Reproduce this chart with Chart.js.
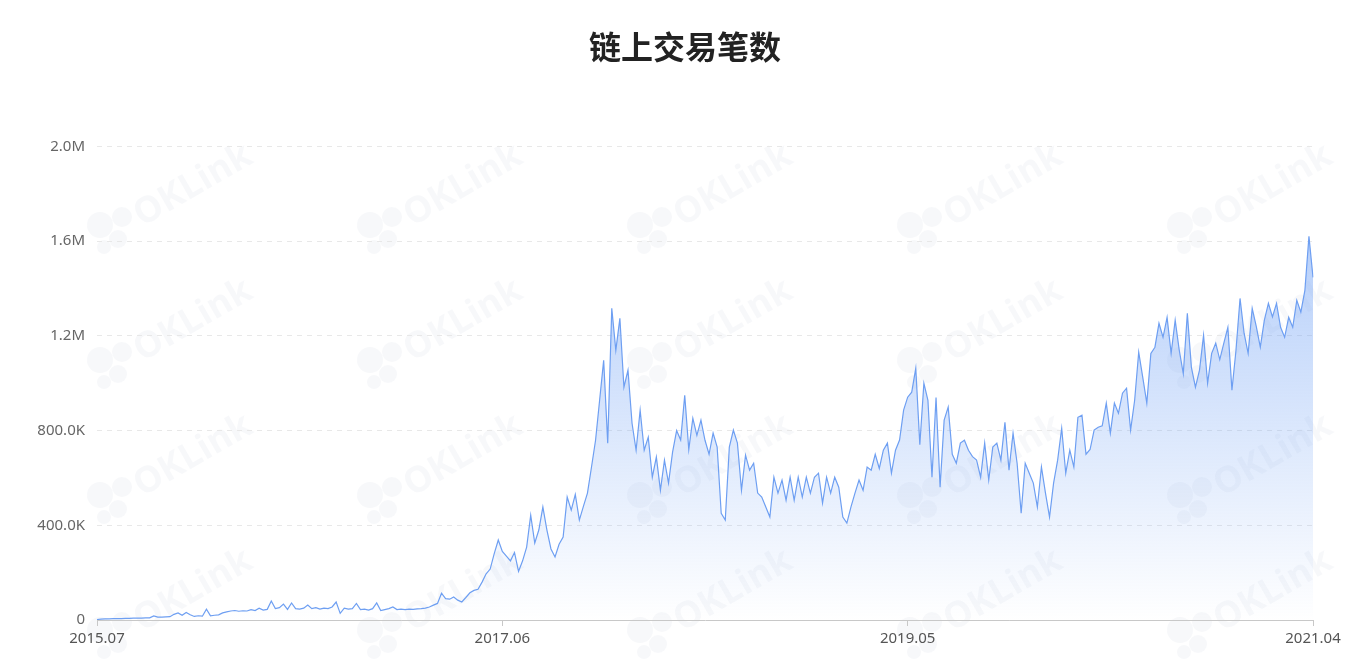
<!DOCTYPE html>
<html>
<head>
<meta charset="utf-8">
<title>链上交易笔数</title>
<script src="https://cdn.jsdelivr.net/npm/chart.js@4.4.1/dist/chart.umd.min.js"></script>
<style>
  html, body { margin: 0; padding: 0; background: #fff; }
  #wrap { width: 1370px; height: 670px; position: relative; }
</style>
</head>
<body>
<div id="wrap"><canvas id="txChart" width="1370" height="670"></canvas></div>
<script>
// weekly samples, 2015.07.30 -> 2021.04.29, values in thousands of transactions
const txCountK = [
  2, 4, 5, 5, 6, 6, 6, 7, 7, 8,
  8, 8, 9, 9, 17, 12, 12, 13, 14, 24,
  30, 20, 32, 22, 15, 18, 16, 46, 18, 20,
  22, 30, 34, 38, 40, 37, 39, 38, 44, 40,
  50, 42, 45, 80, 48, 52, 67, 45, 72, 48,
  46, 50, 63, 48, 52, 46, 50, 48, 55, 76,
  28, 50, 46, 48, 70, 44, 46, 42, 48, 72,
  40, 44, 48, 55, 44, 46, 44, 46, 45, 47,
  48, 50, 55, 63, 70, 113, 90, 88, 97, 84,
  76, 95, 115, 125, 130, 160, 195, 215, 280, 338,
  290,
  270, 250, 285, 205, 250, 308, 443, 325, 380, 477,
  380, 300, 266, 320, 350, 519, 464, 530, 422, 480,
  536, 646, 759, 928, 1097, 747, 1316, 1139, 1274, 983,
  1055, 831, 717, 886, 717, 772, 603, 688, 548, 675,
  578, 709, 800, 760, 949, 720, 852, 780, 844, 759,
  700, 789, 730, 451, 422, 730, 802, 747, 548, 696,
  633, 662, 536, 519, 477, 435, 603, 536, 591, 506,
  603, 506, 603, 519, 603, 536, 603, 620, 494, 603,
  536, 603, 561, 435, 409, 477, 536, 591, 548, 646,
  633, 700, 640, 717, 747, 620, 717, 760, 886, 941,
  962, 1063, 740, 1000, 928, 603, 940, 561, 844, 899,
  700, 662, 747, 759, 717, 690, 675, 603, 747, 591,
  730, 747, 675, 835, 633, 789, 662, 451, 662, 620,
  578, 477, 646, 536, 435, 578, 675, 810, 620, 717,
  646, 856, 865, 700, 720, 802, 814, 820, 916, 789,
  916, 873, 958, 979, 802, 928, 1131, 1025, 916, 1126,
  1152, 1253, 1194, 1278, 1126, 1266, 1140, 1040, 1295, 1067,
  983, 1055, 1202, 1000, 1126, 1169, 1100, 1169, 1236, 970,
  1139, 1358, 1211, 1126, 1316, 1240, 1152, 1266, 1337, 1280,
  1337, 1236, 1194, 1278, 1236, 1350, 1300, 1392, 1620, 1447
];

const xTickIndex = [0, 100, 200, 300];
const xTickLabels = ['2015.07', '2017.06', '2019.05', '2021.04'];
const yTicksK = [0, 400, 800, 1200, 1600, 2000];

// one category per week
const weeks = [];
const start = new Date(2015, 6, 30);
for (let i = 0; i < txCountK.length; i++) {
    const d = new Date(start.getTime() + i * 7 * 86400000);
    weeks.push(d.getFullYear() + '.' + String(d.getMonth() + 1).padStart(2, '0') + '.' + String(d.getDate()).padStart(2, '0'));
}

const fmtK = v => {
    if (v === 0) return '0';
    if (v >= 1000) return (v / 1000).toFixed(1) + 'M';
    return v.toFixed(1) + 'K';
};

// faint OKLink watermark behind the plot
const watermark = {
    id: 'watermark',
    beforeDraw(chart) {
        const ctx = chart.ctx;
        ctx.save();
        for (let c = 0; c < 5; c++) {
            for (let r = 0; r < 4; r++) {
                const x = 100 + c * 270;
                const y = 225 + r * 135;
                ctx.fillStyle = 'rgba(205,212,224,0.16)';
                [[0, 0, 13], [22, -8, 10], [18, 14, 9], [4, 22, 7]].forEach(([dx, dy, rad]) => {
                    ctx.beginPath();
                    ctx.arc(x + dx, y + dy, rad, 0, Math.PI * 2);
                    ctx.fill();
                });
                ctx.translate(x + 42, y + 2);
                ctx.rotate(-Math.PI / 6);
                ctx.font = 'bold 36px "Open Sans", sans-serif';
                ctx.fillText('OKLink', 0, 0);
                ctx.setTransform(1, 0, 0, 1, 0, 0);
            }
        }
        ctx.restore();
    }
};

const ctx = document.getElementById('txChart');
new Chart(ctx, {
    type: 'line',
    data: {
        labels: weeks,
        datasets: [{
            label: '链上交易笔数',
            data: txCountK,
            borderColor: '#6e9ff2',
            borderWidth: 1.2,
            pointRadius: 0,
            tension: 0,
            fill: 'origin',
            backgroundColor: (c) => {
                const area = c.chart.chartArea;
                if (!area) return 'rgba(110,160,245,0.2)';
                const g = c.chart.ctx.createLinearGradient(0, area.top, 0, area.bottom);
                g.addColorStop(0, 'rgba(110,160,245,0.62)');
                g.addColorStop(1, 'rgba(110,160,245,0.0)');
                return g;
            }
        }]
    },
    options: {
        responsive: false,
        animation: false,
        layout: { padding: 0 },
        plugins: {
            legend: { display: false },
            tooltip: { enabled: false },
            title: {
                display: true,
                text: '链上交易笔数',
                color: '#222',
                font: { family: '"Noto Sans CJK SC", sans-serif', size: 32, weight: 'bold' },
                padding: { top: 28, bottom: 80 }
            }
        },
        scales: {
            x: {
                type: 'category',
                afterBuildTicks: (scale) => {
                    scale.ticks = xTickIndex.map(v => ({ value: v }));
                },
                afterFit: (scale) => { scale.height = 50; },
                ticks: {
                    autoSkip: false,
                    maxRotation: 0,
                    padding: 4,
                    color: '#555',
                    font: { family: '"Noto Sans", sans-serif', size: 15 },
                    callback: (v) => xTickLabels[xTickIndex.indexOf(v)]
                },
                grid: { drawOnChartArea: false, drawTicks: true, tickLength: 6, color: '#c8c8c8' },
                border: { display: true, color: '#c8c8c8' }
            },
            y: {
                min: 0,
                max: 2000,
                afterBuildTicks: (scale) => {
                    scale.ticks = yTicksK.map(v => ({ value: v }));
                },
                afterFit: (scale) => { scale.width = 97; },
                ticks: {
                    padding: 12,
                    color: '#666',
                    font: { family: '"Noto Sans", sans-serif', size: 15 },
                    callback: (v) => fmtK(v)
                },
                grid: { color: '#e8e8e8', drawTicks: false },
                border: { display: false, dash: [5, 5] }
            },
            // empty right gutter so the plot ends at the same place as the original
            gutter: {
                position: 'right',
                display: true,
                afterFit: (scale) => { scale.width = 57; },
                ticks: { display: false },
                grid: { display: false },
                border: { display: false }
            }
        }
    },
    plugins: [watermark]
});
</script>
</body>
</html>
